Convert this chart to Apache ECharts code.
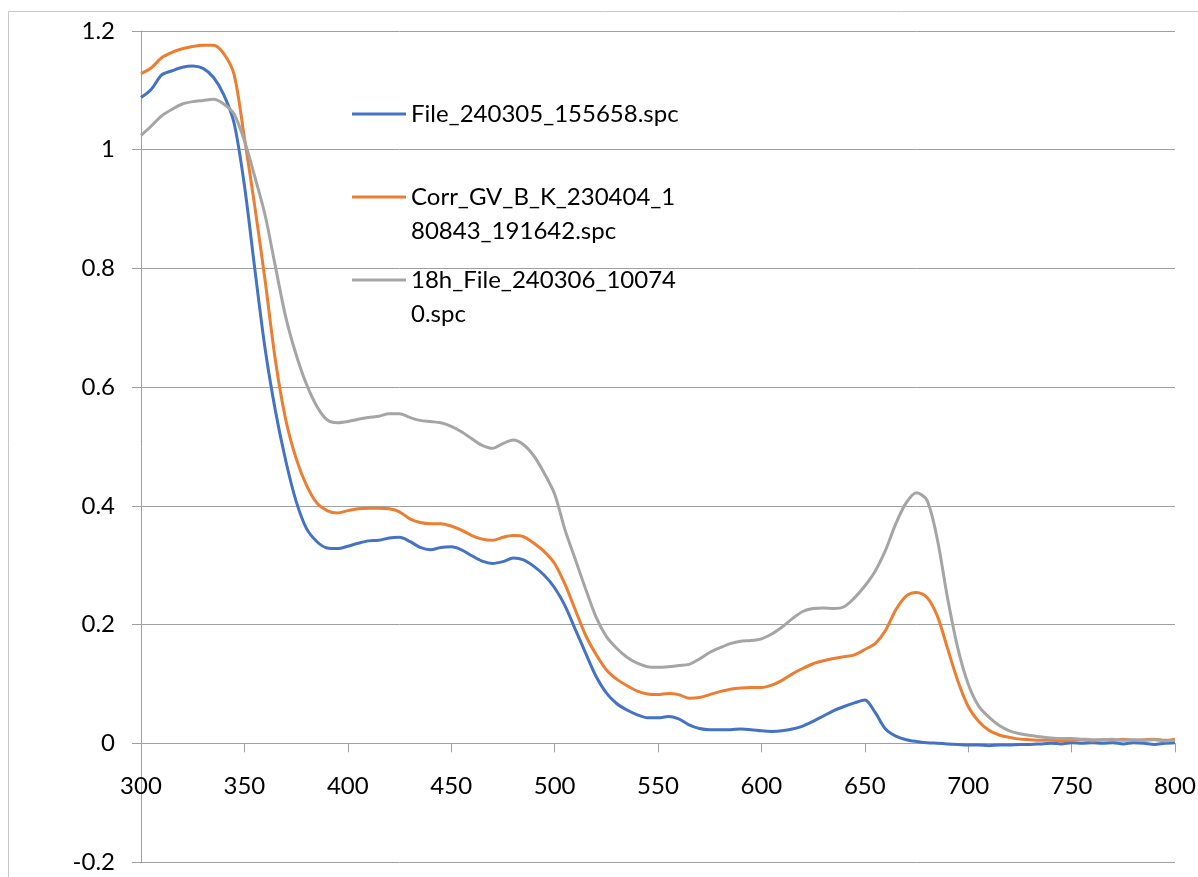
<!DOCTYPE html>
<html>
<head>
<meta charset="utf-8">
<style>
    html, body { margin: 0; padding: 0; background: #fff; }
    #spectra { width: 1198px; height: 877px; }
</style>
<script src="https://cdn.jsdelivr.net/npm/echarts@6/dist/echarts.min.js"></script>
</head>
<body>
<div id="spectra"></div>
<script>
    // wavelength grid (nm), one value per 5 nm
    var wavelengths = [];
    for (var w = 300; w <= 800; w += 5) {
        wavelengths.push(w);
    }

    var seriesNames = ['File_240305_155658.spc', 'Corr_GV_B_K_230404_180843_191642.spc', '18h_File_240306_100740.spc'];

    /* absorbance values */
    var fileA = [
        1.088, 1.102, 1.126, 1.133, 1.139, 1.141, 1.137, 1.122, 1.093, 1.045,
        0.940, 0.800, 0.665, 0.560, 0.476, 0.408, 0.362, 0.340, 0.329, 0.328,
        0.332, 0.337, 0.341, 0.342, 0.346, 0.347, 0.340, 0.330, 0.326, 0.330,
        0.331, 0.326, 0.316, 0.307, 0.303, 0.306, 0.312, 0.309, 0.298, 0.283,
        0.262, 0.232, 0.192, 0.152, 0.113, 0.085, 0.067, 0.056, 0.048, 0.043,
        0.043, 0.045, 0.041, 0.031, 0.025, 0.023, 0.023, 0.023, 0.024, 0.023,
        0.021, 0.020, 0.021, 0.024, 0.029, 0.037, 0.046, 0.055, 0.062, 0.068,
        0.073, 0.052, 0.024, 0.012, 0.006, 0.003, 0.001, 0.000, -0.001, -0.002,
        -0.003, -0.003, -0.004, -0.003, -0.003, -0.002, -0.002, -0.001, 0.000, -0.001,
        0.001, 0.000, 0.001, 0.000, 0.001, -0.001, 0.001, 0.000, -0.002, 0.000,
        0.001
    ];
    var corrGV = [
        1.128, 1.138, 1.155, 1.164, 1.170, 1.174, 1.176, 1.176, 1.162, 1.127,
        1.020, 0.905, 0.780, 0.645, 0.545, 0.480, 0.435, 0.405, 0.392, 0.388,
        0.392, 0.395, 0.396, 0.396, 0.395, 0.390, 0.378, 0.372, 0.370, 0.370,
        0.366, 0.359, 0.350, 0.344, 0.342, 0.347, 0.350, 0.348, 0.337, 0.323,
        0.303, 0.268, 0.225, 0.182, 0.150, 0.124, 0.108, 0.097, 0.088, 0.083,
        0.082, 0.084, 0.082, 0.076, 0.077, 0.082, 0.087, 0.091, 0.093, 0.094,
        0.094, 0.098, 0.106, 0.117, 0.126, 0.134, 0.139, 0.143, 0.146, 0.149,
        0.158, 0.168, 0.190, 0.225, 0.248, 0.254, 0.246, 0.215, 0.160, 0.105,
        0.062, 0.037, 0.022, 0.014, 0.010, 0.007, 0.006, 0.005, 0.005, 0.004,
        0.005, 0.006, 0.004, 0.006, 0.005, 0.007, 0.005, 0.006, 0.007, 0.005,
        0.007
    ];
    var file18h = [
        1.024, 1.040, 1.057, 1.068, 1.077, 1.081, 1.083, 1.085, 1.077, 1.060,
        1.015, 0.955, 0.890, 0.803, 0.718, 0.655, 0.605, 0.568, 0.545, 0.540,
        0.542, 0.546, 0.549, 0.551, 0.555, 0.555, 0.549, 0.544, 0.542, 0.540,
        0.534, 0.525, 0.513, 0.502, 0.497, 0.505, 0.511, 0.503, 0.484, 0.455,
        0.420, 0.360, 0.310, 0.260, 0.213, 0.180, 0.160, 0.145, 0.135, 0.129,
        0.128, 0.129, 0.131, 0.133, 0.142, 0.153, 0.161, 0.168, 0.172, 0.173,
        0.176, 0.184, 0.196, 0.210, 0.222, 0.227, 0.228, 0.227, 0.230, 0.245,
        0.265, 0.290, 0.325, 0.370, 0.405, 0.422, 0.410, 0.345, 0.245, 0.160,
        0.100, 0.063, 0.044, 0.030, 0.021, 0.016, 0.013, 0.011, 0.009, 0.008,
        0.008, 0.007, 0.006, 0.006, 0.007, 0.005, 0.006, 0.005, 0.006, 0.004,
        0.005
    ];

    var colors = ['#4472C4', '#ED7D31', '#A5A5A5'];
    var axisGray = '#a0a0a0';
    var fontFamily = 'Lato, "Open Sans", sans-serif';

    function pairs(values) {
        var out = [];
        for (var i = 0; i < wavelengths.length; i++) {
            out.push([wavelengths[i], values[i]]);
        }
        return out;
    }

    // one legend per entry; an empty first line keeps the icon level with the first text line
    function legendFor(name, label, top) {
        return {
            data: [name],
            left: 352,
            top: top,
            padding: 0,
            icon: 'rect',
            itemWidth: 54,
            itemHeight: 3,
            selectedMode: false,
            formatter: function () {
                return label;
            },
            textStyle: {
                fontFamily: fontFamily,
                fontSize: 24,
                color: '#000',
                lineHeight: 34
            }
        };
    }

    var chart = echarts.init(document.getElementById('spectra'));

    var option = {
        animation: false,
        color: colors,
        graphic: [{
            type: 'rect',
            shape: {x: 8.5, y: 11.5, width: 1400, height: 1000},
            style: {fill: 'none', stroke: '#c8c8c8', lineWidth: 1},
            silent: true
        }],
        grid: {
            left: 141,
            right: 23,
            top: 31,
            bottom: 15,
            outerBoundsMode: 'none'
        },
        legend: [
            legendFor(seriesNames[0], 'File_240305_155658.spc', 97),
            legendFor(seriesNames[1], '\nCorr_GV_B_K_230404_1\n80843_191642.spc', 146),
            legendFor(seriesNames[2], '\n18h_File_240306_10074\n0.spc', 229)
        ],
        xAxis: [
            {
                // line and ticks sit on y = 0
                type: 'value',
                min: 300,
                max: 800,
                interval: 50,
                axisLine: {onZero: true, onZeroAxisIndex: 0, lineStyle: {color: axisGray, width: 1}},
                axisTick: {show: true, inside: false, length: 9, lineStyle: {color: axisGray}},
                axisLabel: {show: false},
                splitLine: {show: false}
            },
            {
                // tick labels only, lifted to just under y = 0
                type: 'value',
                position: 'bottom',
                offset: -119,
                min: 300,
                max: 800,
                interval: 50,
                axisLine: {show: false, onZero: false},
                axisTick: {show: false},
                axisLabel: {
                    margin: 31,
                    fontFamily: fontFamily,
                    fontSize: 24,
                    color: '#000'
                },
                splitLine: {show: false}
            }
        ],
        yAxis: {
            type: 'value',
            min: -0.2,
            max: 1.2,
            interval: 0.2,
            axisLine: {show: true, onZero: false, lineStyle: {color: axisGray, width: 1}},
            axisTick: {show: true, inside: false, length: 9, lineStyle: {color: axisGray}},
            axisLabel: {
                margin: 26,
                fontFamily: fontFamily,
                fontSize: 24,
                color: '#000',
                formatter: function (v) {
                    return String(Math.round(v * 10) / 10);
                }
            },
            splitLine: {show: true, lineStyle: {color: axisGray, width: 1}}
        },
        series: [
            {
                name: seriesNames[0],
                type: 'line',
                showSymbol: false,
                smooth: 0.3,
                lineStyle: {width: 3},
                data: pairs(fileA)
            },
            {
                name: seriesNames[1],
                type: 'line',
                showSymbol: false,
                smooth: 0.3,
                lineStyle: {width: 3},
                data: pairs(corrGV)
            },
            {
                name: seriesNames[2],
                type: 'line',
                showSymbol: false,
                smooth: 0.3,
                lineStyle: {width: 3},
                data: pairs(file18h)
            }
        ]
    };

    chart.setOption(option);
</script>
</body>
</html>
